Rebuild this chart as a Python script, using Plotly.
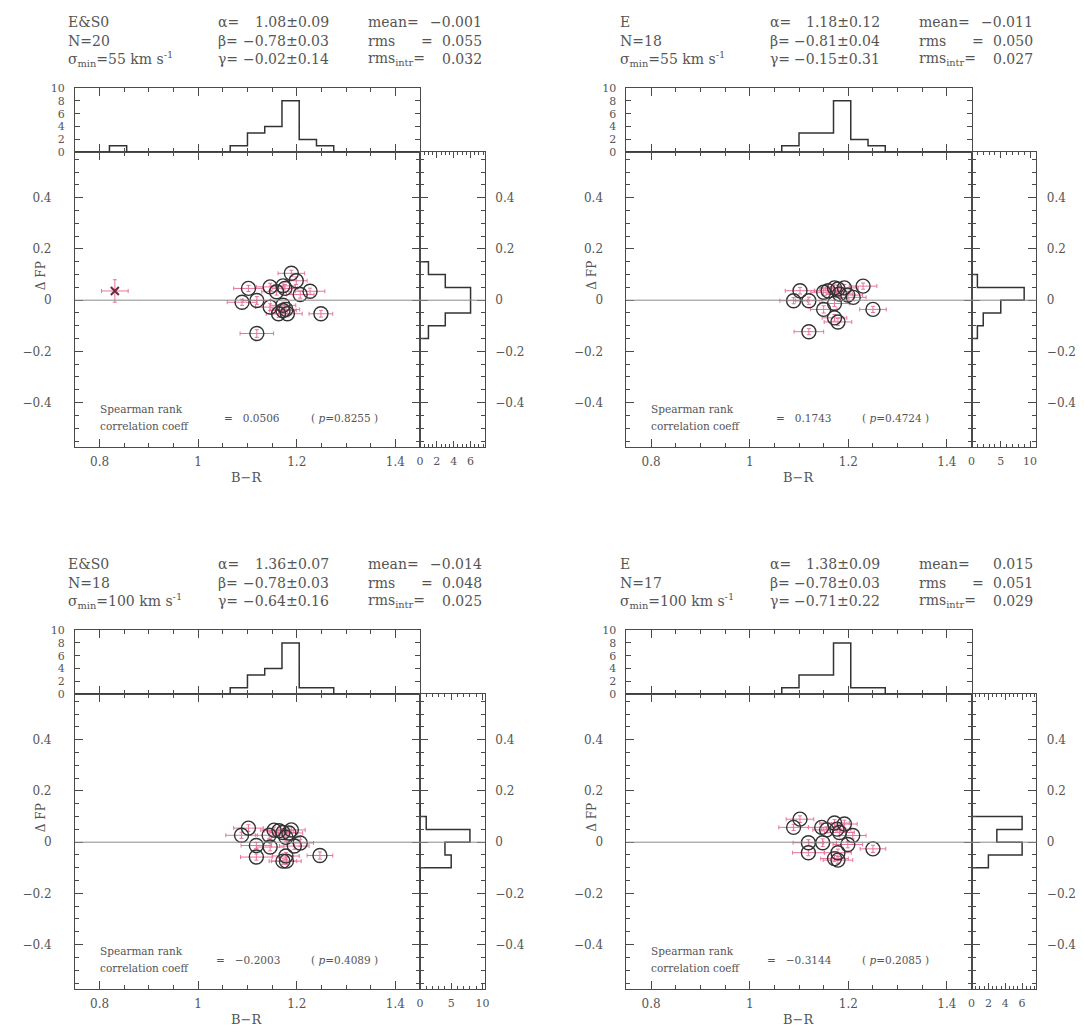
import plotly.graph_objects as go

# page body has an 8px margin -> figure is 16px smaller than the window
PAGE_OFF = 8
W, H = 1084 - 2 * PAGE_OFF, 1036 - 2 * PAGE_OFF
FONT = "DejaVu Serif"
TXT = "#555555"
FR = "#4a4a4a"
PINK = "#e8739b"
CIRC = "#333333"
NB = "\u00a0"

# ---------------- data ----------------
sample = ["E&S0", "E", "E&S0", "E"]
n_gal = ["20", "18", "18", "17"]
sigma_min = ["55", "55", "100", "100"]
alpha = ["1.08±0.09", "1.18±0.12", "1.36±0.07", "1.38±0.09"]
beta = ["−0.78±0.03", "−0.81±0.04", "−0.78±0.03", "−0.78±0.03"]
gamma = ["−0.02±0.14", "−0.15±0.31", "−0.64±0.16", "−0.71±0.22"]
mean_res = ["−0.001", "−0.011", "−0.014", "0.015"]
rms = ["0.055", "0.050", "0.048", "0.051"]
rms_intr = ["0.032", "0.027", "0.025", "0.029"]
spearman = ["0.0506", "0.1743", "−0.2003", "−0.3144"]
p_value = ["0.8255", "0.4724", "0.4089", "0.2085"]

# B-R and Delta FP of the galaxies (open circles)
br_1 = [1.189, 1.199, 1.102, 1.146, 1.172, 1.159, 1.176, 1.227, 1.207, 1.089,
        1.119, 1.146, 1.172, 1.178, 1.163, 1.181, 1.249, 1.119, 1.172]
dfp_1 = [0.105, 0.076, 0.046, 0.052, 0.056, 0.033, 0.046, 0.035, 0.022, -0.008,
         -0.001, -0.027, -0.020, -0.036, -0.053, -0.053, -0.053, -0.130, -0.040]
ebr_1 = [0.027, 0.022, 0.030, 0.028, 0.025, 0.030, 0.026, 0.030, 0.028, 0.030,
         0.028, 0.030, 0.026, 0.028, 0.025, 0.030, 0.024, 0.034, 0.027]
edfp_1 = [0.012, 0.015, 0.012, 0.014, 0.012, 0.013, 0.015, 0.012, 0.014, 0.012,
          0.015, 0.013, 0.012, 0.016, 0.014, 0.012, 0.013, 0.015, 0.012]
# the excluded galaxy (cross) in panel 1
br_x = [0.831]
dfp_x = [0.036]
ebr_x = [0.027]
edfp_x = [0.044]

br_2 = [1.102, 1.089, 1.120, 1.120, 1.150, 1.159, 1.172, 1.179, 1.192, 1.182,
        1.199, 1.210, 1.230, 1.150, 1.172, 1.172, 1.179, 1.250]
dfp_2 = [0.037, -0.002, -0.002, -0.123, 0.031, 0.037, 0.048, 0.044, 0.048, 0.024,
         0.020, 0.011, 0.055, -0.036, -0.013, -0.069, -0.085, -0.036]
ebr_2 = [0.030, 0.028, 0.027, 0.030, 0.026, 0.028, 0.030, 0.025, 0.028, 0.027,
         0.030, 0.026, 0.028, 0.027, 0.030, 0.025, 0.028, 0.027]
edfp_2 = [0.013, 0.012, 0.014, 0.012, 0.013, 0.015, 0.012, 0.014, 0.013, 0.012,
          0.015, 0.013, 0.012, 0.014, 0.012, 0.013, 0.014, 0.012]

br_3 = [1.102, 1.088, 1.144, 1.154, 1.164, 1.172, 1.189, 1.178, 1.207, 1.118,
        1.146, 1.195, 1.118, 1.178, 1.172, 1.179, 1.247, 1.184]
dfp_3 = [0.055, 0.027, 0.027, 0.047, 0.045, 0.038, 0.048, 0.019, -0.003, -0.013,
         -0.019, -0.015, -0.058, -0.054, -0.074, -0.074, -0.052, 0.036]
ebr_3 = [0.030, 0.032, 0.028, 0.027, 0.030, 0.026, 0.028, 0.030, 0.027, 0.031,
         0.028, 0.030, 0.032, 0.027, 0.028, 0.030, 0.026, 0.028]
edfp_3 = [0.013, 0.012, 0.014, 0.012, 0.013, 0.015, 0.012, 0.014, 0.013, 0.012,
          0.015, 0.013, 0.012, 0.014, 0.012, 0.013, 0.014, 0.012]

br_4 = [1.102, 1.089, 1.146, 1.156, 1.172, 1.192, 1.177, 1.182, 1.209, 1.119,
        1.148, 1.199, 1.119, 1.179, 1.172, 1.179, 1.250]
dfp_4 = [0.090, 0.058, 0.058, 0.048, 0.075, 0.071, 0.051, 0.038, 0.026, -0.002,
         -0.002, -0.009, -0.041, -0.041, -0.064, -0.070, -0.026]
ebr_4 = [0.028, 0.030, 0.027, 0.028, 0.030, 0.026, 0.028, 0.030, 0.027, 0.031,
         0.028, 0.030, 0.032, 0.027, 0.028, 0.030, 0.026]
edfp_4 = [0.013, 0.012, 0.014, 0.012, 0.013, 0.015, 0.012, 0.014, 0.013, 0.012,
          0.015, 0.013, 0.012, 0.014, 0.012, 0.013, 0.014]

# top histograms: counts in 20 B-R bins of width 0.035
br_bin_edges = [0.750, 0.785, 0.820, 0.855, 0.890, 0.925, 0.960, 0.995, 1.030,
                1.065, 1.100, 1.135, 1.170, 1.205, 1.240, 1.275, 1.310, 1.345,
                1.380, 1.415, 1.450]
top_counts_1 = [0, 0, 1, 0, 0, 0, 0, 0, 0, 1, 3, 4, 8, 2, 1, 0, 0, 0, 0, 0]
top_counts_2 = [0, 0, 0, 0, 0, 0, 0, 0, 0, 1, 3, 3, 8, 2, 1, 0, 0, 0, 0, 0]
top_counts_3 = [0, 0, 0, 0, 0, 0, 0, 0, 0, 1, 3, 4, 8, 1, 1, 0, 0, 0, 0, 0]
top_counts_4 = [0, 0, 0, 0, 0, 0, 0, 0, 0, 1, 3, 3, 8, 1, 1, 0, 0, 0, 0, 0]

# side histograms: counts in Delta FP bins
dfp_bin_edges = [-0.15, -0.10, -0.05, 0.0, 0.05, 0.10, 0.15]
side_counts_1 = [1, 3, 6, 6, 3, 1]
side_counts_2 = [1, 2, 5, 9, 1, 0]
side_counts_3 = [0, 5, 4, 8, 1, 0]
side_counts_4 = [0, 2, 6, 3, 6, 0]
side_range_max = [7.7, 11.1, 10.4, 7.7]
side_dtick = [2, 5, 5, 2]
side_minor = [0.5, 1, 1, 0.5]

BR_RANGE = [0.75, 1.45]
DFP_RANGE = [-0.575, 0.578]

panels = [
    dict(br=br_1, dfp=dfp_1, ebr=ebr_1, edfp=edfp_1, top=top_counts_1, side=side_counts_1),
    dict(br=br_2, dfp=dfp_2, ebr=ebr_2, edfp=edfp_2, top=top_counts_2, side=side_counts_2),
    dict(br=br_3, dfp=dfp_3, ebr=ebr_3, edfp=edfp_3, top=top_counts_3, side=side_counts_3),
    dict(br=br_4, dfp=dfp_4, ebr=ebr_4, edfp=edfp_4, top=top_counts_4, side=side_counts_4),
]
offsets = [(0, 0), (561, 0), (0, 549), (561, 549)]


def fx(px):
    return (px - PAGE_OFF) / W


def fy(py):
    return 1 - (py - PAGE_OFF) / H


def ax_name(kind, k):
    return kind + "axis" + ("" if k == 1 else str(k))


def ref(kind, k):
    return kind + ("" if k == 1 else str(k))


fig = go.Figure()
layout = dict(width=W, height=H, margin=dict(l=0, r=0, t=0, b=0), autosize=False,
              paper_bgcolor="white", plot_bgcolor="rgba(0,0,0,0)", showlegend=False,
              font=dict(family=FONT, color=TXT))
annotations = []
shapes = []

common = dict(showline=True, linecolor=FR, linewidth=1, mirror="allticks",
              ticks="inside", tickcolor=FR, tickwidth=1, ticklen=8,
              showgrid=False, zeroline=False,
              tickfont=dict(family=FONT, size=12, color=TXT))


def txt(x, y, s, size=14, xanchor="left", angle=0):
    annotations.append(dict(x=fx(x), y=fy(y), xref="paper", yref="paper", text=s,
                            showarrow=False, xanchor=xanchor, yanchor="middle",
                            textangle=angle,
                            font=dict(family=FONT, size=size, color=TXT)))


for i, (pd_, (dx, dy)) in enumerate(zip(panels, offsets)):
    km, kt, ks = 3 * i + 1, 3 * i + 2, 3 * i + 3
    main_x = [fx(72 + dx), fx(423 + dx)]
    side_x = [fx(423 + dx), fx(489 + dx)]
    main_y = [fy(447 + dy), fy(148 + dy)]
    top_y = [fy(148 + dy), fy(83 + dy)]

    # main axes
    layout[ax_name("x", km)] = dict(common, domain=main_x, anchor=ref("y", km), range=BR_RANGE,
                                    tick0=0.8, dtick=0.2, ticklabelstandoff=3,
                                    minor=dict(ticks="inside", ticklen=4, tickcolor=FR, dtick=0.05, tick0=0.8))
    layout[ax_name("y", km)] = dict(common, domain=main_y, anchor=ref("x", km), range=DFP_RANGE,
                                    tick0=0, dtick=0.2, ticklabelstandoff=20,
                                    minor=dict(ticks="inside", ticklen=4, tickcolor=FR, dtick=0.05, tick0=0))
    # top histogram axes
    layout[ax_name("x", kt)] = dict(common, domain=main_x, anchor=ref("y", kt), range=BR_RANGE,
                                    tick0=0.8, dtick=0.2, showticklabels=False,
                                    minor=dict(ticks="inside", ticklen=4, tickcolor=FR, dtick=0.05, tick0=0.8))
    layout[ax_name("y", kt)] = dict(common, domain=top_y, anchor=ref("x", kt), range=[0, 10],
                                    tick0=0, dtick=2, ticklen=5, ticklabelstandoff=7,
                                    tickfont=dict(family=FONT, size=11, color=TXT))
    # side histogram axes
    layout[ax_name("x", ks)] = dict(common, domain=side_x, anchor=ref("y", ks),
                                    range=[0, side_range_max[i]], tick0=0, dtick=side_dtick[i],
                                    ticklen=6, ticklabelstandoff=3,
                                    tickfont=dict(family=FONT, size=11, color=TXT),
                                    minor=dict(ticks="inside", ticklen=3, tickcolor=FR, dtick=side_minor[i], tick0=0))
    layout[ax_name("y", ks)] = dict(common, domain=main_y, anchor=ref("x", ks), range=DFP_RANGE,
                                    side="right", tick0=0, dtick=0.2, ticklabelstandoff=7,
                                    minor=dict(ticks="inside", ticklen=4, tickcolor=FR, dtick=0.05, tick0=0))

    # zero line across main and side panels
    shapes.append(dict(type="line", xref="paper", yref=ref("y", km), x0=main_x[0], x1=side_x[1],
                       y0=0, y1=0, line=dict(color="#8a8a8a", width=1)))

    # top histogram outline
    hx, hy = [br_bin_edges[0]], [0]
    for j, c in enumerate(pd_["top"]):
        hx += [br_bin_edges[j], br_bin_edges[j + 1]]
        hy += [c, c]
    hx.append(br_bin_edges[-1])
    hy.append(0)
    fig.add_trace(go.Scatter(x=hx, y=hy, mode="lines", line=dict(color="#333333", width=1.5),
                             xaxis=ref("x", kt), yaxis=ref("y", kt), hoverinfo="skip"))

    # side histogram outline
    sx, sy = [0], [dfp_bin_edges[0]]
    for j, c in enumerate(pd_["side"]):
        sx += [c, c]
        sy += [dfp_bin_edges[j], dfp_bin_edges[j + 1]]
    sx.append(0)
    sy.append(dfp_bin_edges[-1])
    fig.add_trace(go.Scatter(x=sx, y=sy, mode="lines", line=dict(color="#333333", width=1.5),
                             xaxis=ref("x", ks), yaxis=ref("y", ks), hoverinfo="skip"))

    # error bars
    fig.add_trace(go.Scatter(x=pd_["br"], y=pd_["dfp"], mode="markers",
                             marker=dict(size=1, color="rgba(0,0,0,0)"),
                             error_x=dict(type="data", array=pd_["ebr"], color=PINK, thickness=1, width=2),
                             error_y=dict(type="data", array=pd_["edfp"], color=PINK, thickness=1, width=2),
                             xaxis=ref("x", km), yaxis=ref("y", km)))
    # circles
    fig.add_trace(go.Scatter(x=pd_["br"], y=pd_["dfp"], mode="markers",
                             marker=dict(symbol="circle-open", size=14, color=CIRC, line=dict(width=1.4)),
                             xaxis=ref("x", km), yaxis=ref("y", km)))
    if i == 0:
        fig.add_trace(go.Scatter(x=br_x, y=dfp_x, mode="markers",
                                 marker=dict(symbol="x-thin-open", size=8, color="#6a2a3a", line=dict(width=2)),
                                 error_x=dict(type="data", array=ebr_x, color=PINK, thickness=1, width=2),
                                 error_y=dict(type="data", array=edfp_x, color=PINK, thickness=1, width=2),
                                 xaxis=ref("x", km), yaxis=ref("y", km)))

    # header text
    r1, r2, r3 = 16 + dy, 35 + dy, 54 + dy
    txt(63 + dx, r1, sample[i])
    txt(63 + dx, r2, "N=" + n_gal[i])
    txt(63 + dx, r3, "σ<sub>min</sub>=" + sigma_min[i] + " km s<sup>-1</sup>")
    txt(216 + dx, r1, "α=")
    txt(216 + dx, r2, "β=")
    txt(216 + dx, r3, "γ=")
    txt(332 + dx, r1, alpha[i], xanchor="right")
    txt(332 + dx, r2, beta[i], xanchor="right")
    txt(332 + dx, r3, gamma[i], xanchor="right")
    txt(368 + dx, r1, "mean=")
    txt(368 + dx, r2, "rms")
    txt(430 + dx, r2, "=", xanchor="center")
    txt(368 + dx, r3, "rms<sub>intr</sub>=")
    txt(488 + dx, r1, mean_res[i], xanchor="right")
    txt(488 + dx, r2, rms[i], xanchor="right")
    txt(488 + dx, r3, rms_intr[i], xanchor="right")

    # Spearman text
    txt(95 + dx, 408 + dy, "Spearman rank", size=10.5)
    txt(95 + dx, 425 + dy, "correlation coeff", size=10.5)
    txt(283 + dx, 417 + dy, "=" + NB * 3 + spearman[i], size=10.5, xanchor="right")
    txt(310 + dx, 417 + dy, "(" + NB + "<i>p</i>=" + p_value[i] + NB + ")", size=10.5)

    # axis titles
    txt(37 + dx, 273 + dy, "Δ FP", size=12, xanchor="center", angle=-90)
    txt(247 + dx, 477 + dy, "B−R", size=13, xanchor="center")

layout["annotations"] = annotations
layout["shapes"] = shapes
fig.update_layout(**layout)
fig.write_html("out.html")
